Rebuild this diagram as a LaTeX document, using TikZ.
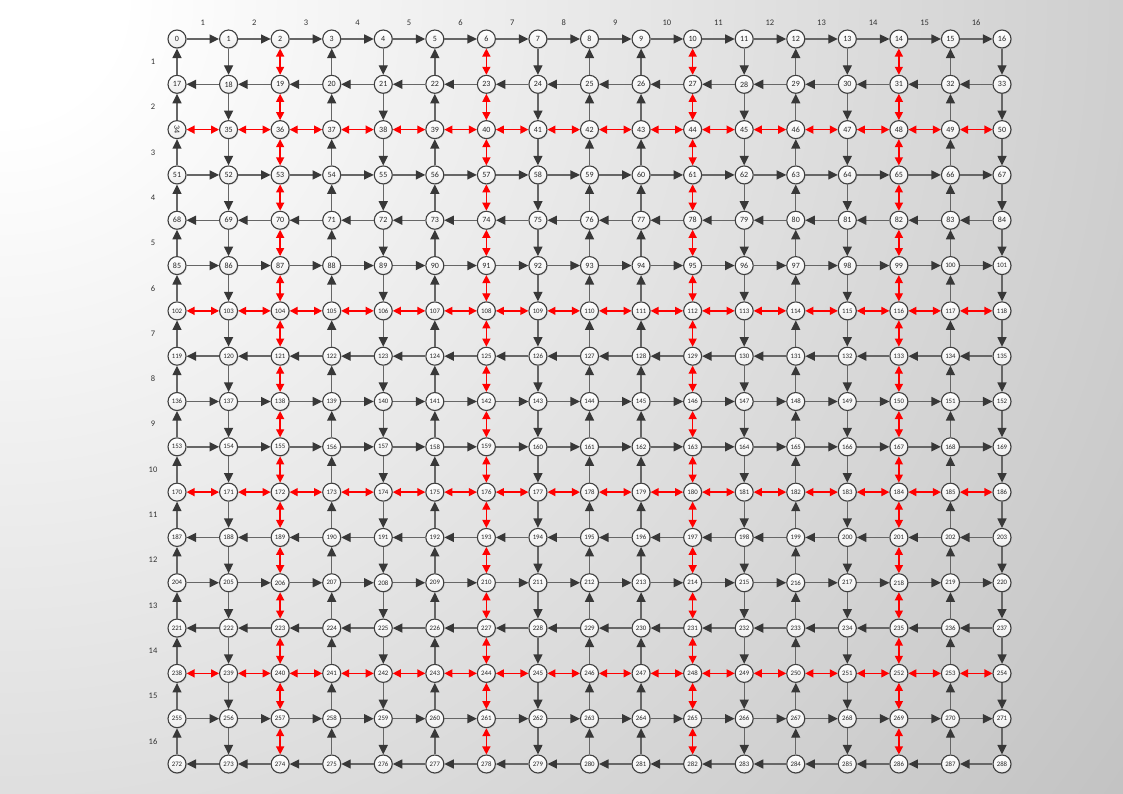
\documentclass[tikz,border=0pt]{standalone}
\usepackage{fontspec}
\setmainfont{Carlito}
\usetikzlibrary{arrows.meta,shadows}
\pgfdeclareradialshading{bgshade}{\pgfpointorigin}{color(0bp)=(white); color(2bp)=(white); color(25bp)=(black!26); color(50bp)=(black!27)}
\def\dirlist{{1,-1,0,1,-1,1,0,-1,1,1,0,-1,1,-1,0,1,-1}}
\begin{document}
\begin{tikzpicture}[x=1pt,y=-1pt,
  vtx/.style={circle,draw=black!75,line width=1.1pt,top color=white,bottom color=black!7,
    minimum size=18pt,inner sep=0pt,text=black!85,
    drop shadow={opacity=0.2,shadow xshift=1pt,shadow yshift=-1pt}},
  fwd/.style={draw=black!60,line width=1.4pt,-{Triangle[length=9.5pt,width=9pt,color=black!78]}},
  redbi/.style={draw=red,line width=1.3pt,{Triangle[length=8pt,width=8pt]}-{Triangle[length=8pt,width=8pt]}},
  lbl/.style={font=\fontsize{8.5}{9}\selectfont,text=black!80,inner sep=0pt}]
\useasboundingbox (0,0) rectangle (1123,794);
\begin{scope}
  \clip (0,0) rectangle (1123,794);
  \shade[shading=bgshade] (0,0) circle (1500);
\end{scope}
% vertices
\foreach \r in {0,...,16}{
  \foreach \c in {0,...,16}{
    \pgfmathtruncatemacro\n{17*\r+\c}
    \ifnum\n>99 \def\fs{\fontsize{6.8}{7}\selectfont}\else\def\fs{\fontsize{8}{8}\selectfont}\fi
    \ifnum\n=34 \def\rot{-90}\else\def\rot{0}\fi
    \node[vtx,font=\fs,rotate=\rot] (n\n) at ({177+51.5625*\c},{39+45.3125*\r}) {\n};
  }
}
% horizontal connectors
\foreach \r in {0,...,16}{
  \pgfmathtruncatemacro\t{\dirlist[\r]}
  \foreach \c in {0,...,15}{
    \pgfmathtruncatemacro\a{17*\r+\c}
    \pgfmathtruncatemacro\b{\a+1}
    \ifnum\t=1 \draw[fwd] (n\a) -- (n\b);
    \else\ifnum\t=-1 \draw[fwd] (n\b) -- (n\a);
    \else \draw[redbi] (n\a) -- (n\b);\fi\fi
  }
}
% vertical connectors
\foreach \c in {0,...,16}{
  \pgfmathtruncatemacro\t{\dirlist[\c]}
  \foreach \r in {0,...,15}{
    \pgfmathtruncatemacro\a{17*\r+\c}
    \pgfmathtruncatemacro\b{\a+17}
    \ifnum\t=1 \draw[fwd] (n\b) -- (n\a);
    \else\ifnum\t=-1 \draw[fwd] (n\a) -- (n\b);
    \else \draw[redbi] (n\a) -- (n\b);\fi\fi
  }
}
% column and row labels
\foreach \k in {1,...,16}{
  \node[lbl] (ct\k) at ({177+51.5625*(\k-0.5)},23) {\k};
  \node[lbl] (rl\k) at (153,{39+45.3125*(\k-0.5)}) {\k};
}
\end{tikzpicture}
\end{document}
